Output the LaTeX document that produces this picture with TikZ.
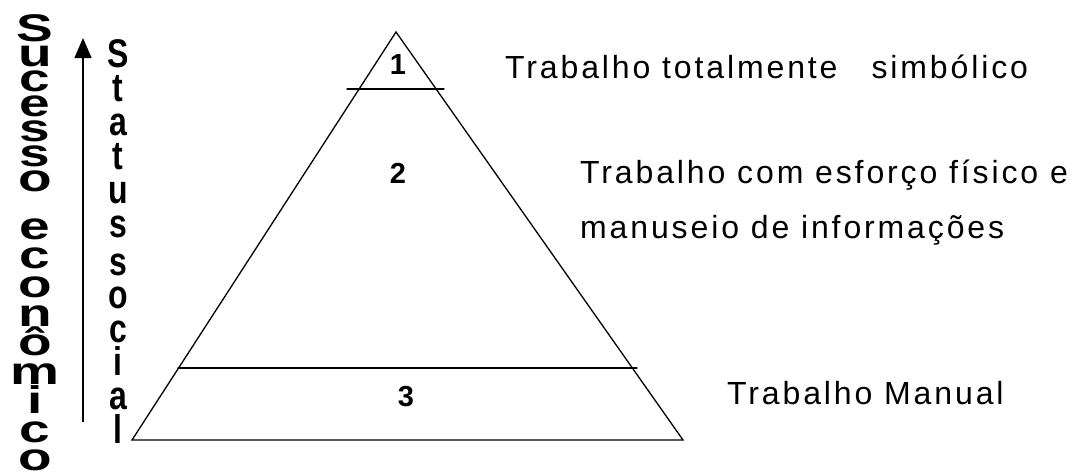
\documentclass[tikz,border=0pt]{standalone}
\usepackage{fontspec}
\setmainfont{Liberation Sans}
\newfontfamily\lsfont[LetterSpace=9]{Liberation Sans}
\usetikzlibrary{arrows.meta}
\newcommand{\stk}[2]{\hbox to 0pt{\hss #1\hss}\vskip #2}
\tikzset{
  edge/.style={line width=1.3pt, line cap=round, line join=miter},
  numlab/.style={inner sep=0pt, anchor=base, font=\fontsize{29}{34}\selectfont\bfseries},
  desc/.style={inner sep=0pt, anchor=base west, font=\fontsize{32}{36}\selectfont\lsfont},
  bigcol/.style={inner sep=0pt, anchor=base, font=\fontsize{55}{60}\selectfont\bfseries, yscale=0.7, transform shape},
  midcol/.style={inner sep=0pt, anchor=base, font=\fontsize{32}{36}\selectfont\bfseries, yscale=1.25, transform shape}
}
\begin{document}
\begin{tikzpicture}[x=1pt,y=-1pt]
\useasboundingbox (0,0) rectangle (1078,471);
% triangle
\coordinate (apex) at (396,32);
\coordinate (bl) at (132,440);
\coordinate (br) at (683,440);
\draw[edge] (apex) -- (bl) -- (br) -- cycle;
\coordinate (l1a) at (347,89);
\coordinate (l1b) at (444,89);
\coordinate (l3a) at (178,368);
\coordinate (l3b) at (637,368);
\draw[edge] (l1a) -- (l1b);
\draw[edge] (l3a) -- (l3b);
% numbers
\node[numlab] (n1) at (398,74) {1};
\node[numlab] (n2) at (398,183) {2};
\node[numlab] (n3) at (406,406) {3};
% descriptions
\node[desc] (t1) at (505,78) {Trabalho totalmente\hspace{34pt}simbólico};
\node[desc] (t2a) at (580,183) {Trabalho com esforço físico e};
\node[desc] (t2b) at (580,238) {manuseio de informações};
\node[desc] (t3) at (727,404) {Trabalho Manual};
% arrow
\coordinate (arrB) at (83,422);
\coordinate (arrT) at (83,38);
\draw[line width=1.2pt, -{Triangle[width=17pt,length=20pt]}] (arrB) -- (arrT);
% Sucesso economico
\node[bigcol] (suc) at (35,41) {\vtop{\baselineskip=35.95pt\lineskiplimit=-\maxdimen\lineskip=0pt
  \stk{S}{0pt}\stk{u}{0pt}\stk{c}{0pt}\stk{e}{0pt}\stk{s}{0pt}\stk{s}{0pt}\stk{o}{32.6pt}%
  \stk{e}{5.3pt}\stk{c}{5.3pt}\stk{o}{5.3pt}\stk{n}{5.3pt}\stk{ô}{5.3pt}\stk{m}{5.3pt}\stk{i}{5.3pt}\stk{c}{5.3pt}\stk{o}{0pt}}};
% Status social
\node[midcol] (sta) at (118,67) {\vtop{\baselineskip=27.2pt\lineskiplimit=-\maxdimen\lineskip=0pt
  \stk{S}{0pt}\stk{t}{0pt}\stk{a}{0pt}\stk{t}{0pt}\stk{u}{0pt}\stk{s}{3.2pt}%
  \stk{s}{-0.3pt}\stk{o}{-0.3pt}\stk{c}{-0.3pt}\stk{i}{-0.3pt}\stk{a}{-0.3pt}\stk{l}{0pt}}};
\end{tikzpicture}
\end{document}
